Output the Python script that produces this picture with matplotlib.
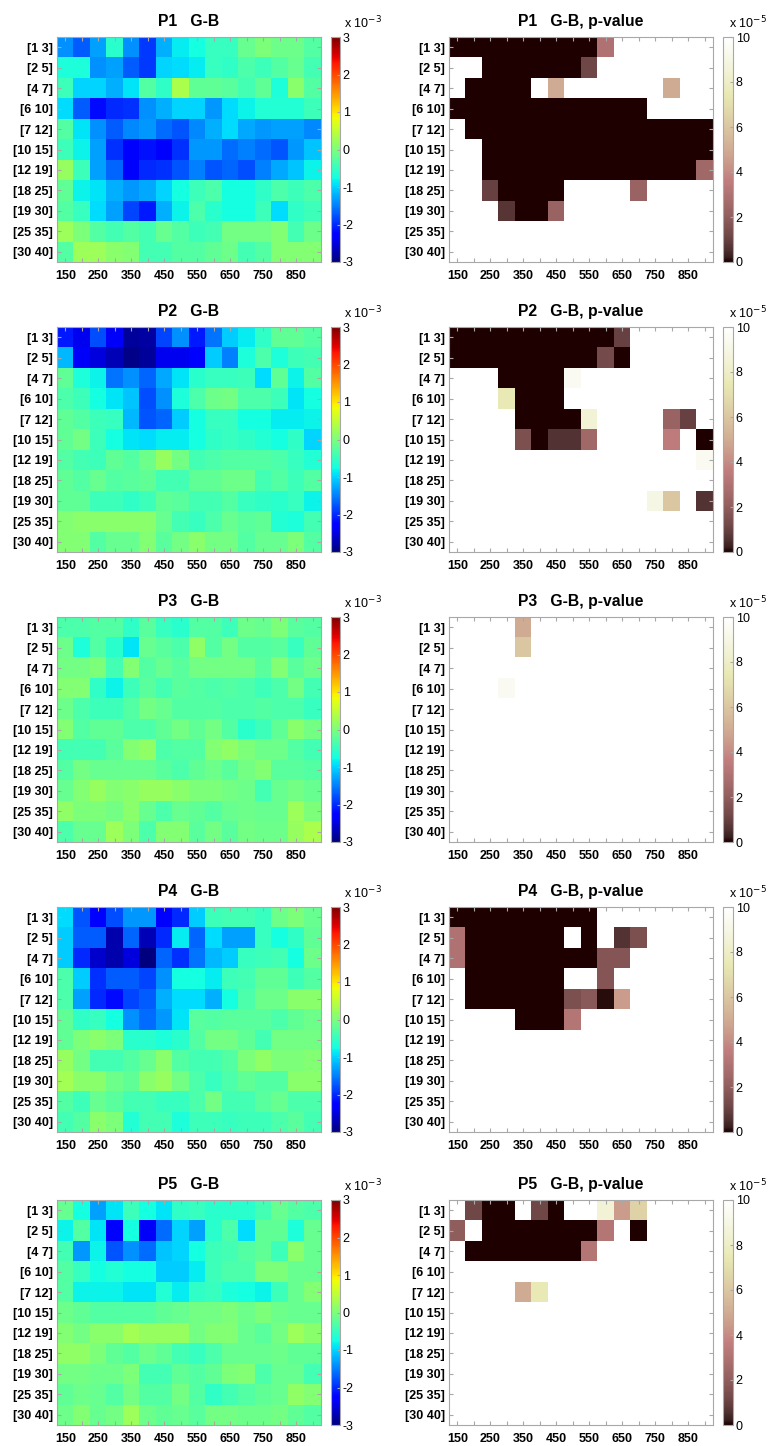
import matplotlib
matplotlib.use('Agg')
import matplotlib.pyplot as plt
import numpy as np

plt.rcParams['font.family'] = ['Liberation Sans', 'DejaVu Sans']

N = np.nan

x_vals = [150, 200, 250, 300, 350, 400, 450, 500, 550, 600, 650, 700, 750, 800, 850, 900]
x_labels = ['150', '', '250', '', '350', '', '450', '', '550', '', '650', '', '750', '', '850', '']
row_labels = ['[1 3]', '[2 5]', '[4 7]', '[6 10]', '[7 12]', '[10 15]',
              '[12 19]', '[18 25]', '[19 30]', '[25 35]', '[30 40]']
panel_names = ['P1', 'P2', 'P3', 'P4', 'P5']

# G-B difference, in units of 1e-3
gb_p1 = [
    [-1.4, -1.7, -1.3, -0.6, -1.4, -1.9, -1.2, -0.85, -0.75, -0.5, -0.5, -0.15, 0.0, -0.1, -0.1, -0.3],
    [-0.7, -0.7, -1.4, -1.3, -1.7, -1.9, -1.0, -0.95, -0.85, -0.5, -0.55, -0.35, -0.45, -0.3, -0.15, -0.4],
    [-0.45, -1.0, -1.0, -1.2, -0.9, -0.3, -0.55, 0.35, -0.2, -0.2, -0.25, -0.4, -0.2, -0.7, 0.1, -0.3],
    [-0.95, -1.7, -2.2, -2.0, -1.95, -1.4, -1.2, -1.0, -1.0, -1.35, -0.95, -0.8, -0.65, -0.65, -0.65, -0.45],
    [-0.3, -0.9, -1.4, -1.7, -1.45, -1.35, -1.6, -1.75, -1.45, -1.2, -0.95, -1.25, -1.35, -1.3, -1.3, -1.45],
    [-0.45, -0.8, -1.3, -1.95, -2.3, -2.15, -2.3, -1.95, -1.35, -1.35, -1.6, -1.5, -1.6, -1.75, -1.35, -1.1],
    [0.2, -0.45, -1.3, -1.65, -2.3, -2.0, -1.95, -1.75, -1.5, -1.75, -1.65, -1.8, -1.5, -1.25, -1.1, -0.8],
    [-0.2, -0.8, -0.9, -1.2, -1.35, -1.25, -1.0, -0.75, -0.45, -0.35, -0.75, -0.75, -0.55, -0.35, -0.45, -0.35],
    [-0.3, -0.5, -0.95, -1.3, -1.85, -2.1, -1.2, -0.8, -0.35, -0.6, -0.75, -0.75, -0.45, -0.95, -0.55, -0.45],
    [0.25, 0.0, -0.3, -0.4, -0.3, -0.4, -0.15, -0.3, -0.45, -0.4, -0.05, -0.05, -0.05, 0.05, -0.4, -0.1],
    [-0.3, 0.25, 0.25, 0.1, 0.05, -0.4, -0.4, -0.3, -0.3, -0.2, -0.1, -0.4, -0.3, 0.05, 0.05, 0.05],
]
gb_p2 = [
    [-2.1, -2.4, -1.8, -2.35, -2.85, -2.8, -1.85, -1.4, -2.1, -1.55, -1.05, -0.85, -0.55, -0.2, -0.2, -0.3],
    [-1.15, -2.35, -2.5, -2.7, -2.95, -2.85, -2.4, -2.4, -2.25, -1.05, -1.5, -0.7, -0.35, -0.7, -0.45, -0.4],
    [-0.2, -0.7, -0.8, -1.55, -1.4, -1.65, -1.25, -0.9, -0.6, -0.5, -0.5, -0.45, -0.95, -0.2, -0.8, -0.3],
    [-0.35, -0.45, -0.75, -0.9, -1.1, -1.8, -1.4, -0.7, -0.35, -0.1, -0.05, -0.35, -0.35, -0.45, -0.9, -0.75],
    [-0.2, -0.3, -0.45, -0.5, -1.15, -1.75, -1.65, -1.05, -0.75, -0.5, -0.5, -0.75, -0.75, -0.85, -0.85, -0.8],
    [-0.2, -0.05, -0.45, -0.75, -0.9, -0.95, -0.85, -0.85, -0.75, -0.55, -0.5, -0.55, -0.65, -0.75, -0.55, -1.0],
    [-0.3, -0.4, -0.45, -0.2, -0.3, -0.1, 0.2, -0.05, -0.4, -0.35, -0.3, -0.3, -0.3, -0.35, -0.5, -0.65],
    [-0.2, -0.3, -0.15, -0.3, -0.25, -0.2, -0.4, -0.4, -0.2, -0.2, -0.1, -0.1, -0.4, -0.3, -0.45, -0.3],
    [-0.2, -0.2, -0.45, -0.45, -0.55, -0.45, -0.2, -0.25, -0.4, -0.4, -0.3, -0.5, -0.55, -0.6, -0.5, -0.8],
    [0.05, 0.1, 0.1, 0.1, 0.1, 0.1, -0.15, -0.4, -0.5, -0.35, -0.15, -0.25, -0.2, -0.65, -0.7, -0.4],
    [0.05, 0.05, -0.3, -0.15, -0.15, 0.05, -0.25, -0.05, 0.1, -0.05, -0.05, -0.3, -0.15, -0.15, 0.0, -0.3],
]
gb_p3 = [
    [-0.35, -0.35, -0.3, -0.3, -0.55, -0.25, -0.5, -0.6, -0.3, -0.3, -0.45, -0.1, -0.15, 0.0, -0.25, -0.3],
    [-0.1, -0.7, -0.3, -0.6, -0.9, -0.15, -0.25, -0.35, 0.15, -0.3, -0.05, -0.3, -0.3, -0.25, -0.5, -0.2],
    [-0.05, -0.05, 0.0, -0.4, 0.05, -0.3, -0.15, -0.25, -0.05, -0.05, -0.05, -0.05, -0.25, 0.05, -0.25, -0.1],
    [0.05, 0.05, -0.55, -0.8, -0.45, -0.25, -0.4, -0.25, -0.3, -0.35, -0.3, -0.35, -0.45, -0.35, -0.05, -0.4],
    [-0.1, -0.35, -0.45, -0.45, -0.3, -0.05, -0.15, -0.3, -0.3, -0.3, -0.35, -0.35, -0.3, -0.35, -0.35, -0.5],
    [0.05, -0.3, -0.2, -0.2, -0.35, -0.35, -0.2, -0.05, -0.2, -0.05, -0.3, -0.6, -0.45, -0.2, 0.1, -0.05],
    [-0.4, -0.4, -0.4, -0.25, 0.05, 0.15, -0.35, -0.3, -0.3, 0.05, 0.15, 0.0, -0.1, -0.1, -0.3, -0.4],
    [-0.3, -0.05, -0.15, -0.15, -0.15, -0.15, -0.25, -0.35, -0.2, -0.1, -0.25, -0.05, 0.05, -0.25, -0.25, -0.3],
    [-0.15, 0.05, 0.2, 0.05, 0.1, 0.2, 0.2, 0.1, 0.0, 0.0, -0.05, -0.1, -0.4, -0.15, -0.05, -0.15],
    [0.15, 0.0, 0.0, -0.05, 0.1, -0.15, -0.35, -0.15, -0.2, -0.3, -0.15, -0.1, -0.15, -0.15, 0.25, 0.0],
    [-0.35, -0.15, -0.15, 0.25, 0.0, -0.35, 0.05, 0.05, -0.25, -0.05, -0.25, -0.05, -0.1, -0.1, 0.2, 0.35],
]
gb_p4 = [
    [-0.95, -1.75, -2.3, -1.8, -1.35, -1.35, -2.3, -2.0, -1.05, -0.45, -0.4, -0.4, -0.5, -0.1, 0.0, -0.15],
    [-1.05, -1.7, -1.7, -2.75, -1.65, -2.7, -2.0, -0.85, -1.65, -0.95, -1.3, -1.3, -0.5, -0.75, -0.55, -0.2],
    [-1.05, -2.0, -2.6, -2.75, -2.5, -3.0, -1.65, -1.95, -1.55, -1.15, -1.05, -0.5, -0.45, -0.4, -0.75, -0.1],
    [-0.35, -1.05, -1.95, -1.7, -1.7, -1.85, -1.4, -0.75, -0.75, -0.85, -0.45, -0.4, -0.2, -0.2, -0.45, -0.3],
    [-0.35, -1.3, -2.0, -2.2, -1.85, -1.7, -1.2, -0.95, -0.95, -1.2, -0.75, -0.35, -0.1, -0.1, 0.1, 0.1],
    [-0.2, -0.55, -0.5, -0.75, -1.4, -1.6, -1.35, -0.9, -0.25, -0.3, -0.25, -0.25, -0.25, -0.35, -0.2, -0.1],
    [-0.2, 0.0, 0.1, 0.0, -0.6, -0.6, -0.7, -0.6, -0.3, -0.05, -0.05, -0.2, -0.4, -0.05, -0.05, -0.05],
    [0.2, -0.05, -0.4, -0.4, -0.3, -0.15, 0.1, -0.3, -0.4, -0.4, -0.3, 0.0, 0.15, 0.0, 0.0, 0.05],
    [0.3, 0.1, 0.1, -0.1, -0.2, 0.1, 0.2, -0.05, -0.35, -0.5, -0.35, -0.2, -0.3, -0.3, 0.1, 0.1],
    [-0.3, -0.45, -0.15, -0.25, -0.4, -0.4, -0.5, -0.5, -0.35, -0.05, -0.4, -0.4, -0.25, -0.15, -0.35, -0.35],
    [-0.4, -0.3, 0.1, 0.0, -0.65, -0.4, -0.4, -0.7, -0.45, -0.45, -0.5, -0.45, -0.45, -0.35, -0.25, -0.4],
]
gb_p5 = [
    [-0.15, -0.75, -1.3, -0.9, -0.45, -0.75, -0.9, -0.55, -0.5, -0.6, -0.6, -0.6, -0.4, -0.15, -0.3, -0.35],
    [-0.8, -0.3, -0.9, -2.3, -0.75, -2.35, -1.6, -1.0, -1.3, -0.6, -0.35, -0.95, -0.2, -0.2, -0.7, -0.15],
    [-0.4, -1.35, -0.8, -1.75, -1.4, -1.6, -1.1, -1.0, -0.75, -0.45, -0.4, -0.3, -0.2, -0.45, 0.1, -0.15],
    [-0.3, -0.5, -0.75, -0.65, -0.75, -0.75, -1.05, -1.05, -0.85, -0.45, -0.35, -0.35, 0.0, 0.0, -0.15, -0.15],
    [-0.3, -0.8, -0.8, -0.8, -0.9, -0.9, -0.65, -0.85, -0.55, -0.5, -0.7, -0.75, -0.8, -0.45, -0.15, 0.05],
    [-0.1, -0.2, -0.3, -0.3, -0.3, -0.3, -0.2, -0.15, -0.05, -0.05, 0.0, -0.1, 0.0, -0.1, -0.15, -0.15],
    [0.05, -0.05, 0.1, 0.1, 0.3, 0.2, 0.2, 0.2, -0.05, 0.05, 0.05, -0.15, -0.25, -0.05, 0.25, 0.1],
    [0.15, 0.15, 0.0, -0.2, -0.3, -0.1, -0.2, -0.4, -0.5, -0.35, -0.15, -0.15, -0.15, -0.1, -0.2, -0.2],
    [-0.05, -0.05, -0.1, -0.1, 0.0, -0.4, -0.4, -0.2, -0.3, -0.2, 0.0, 0.05, -0.35, -0.15, -0.15, -0.4],
    [-0.2, -0.1, -0.15, -0.3, -0.05, -0.3, -0.3, -0.05, -0.3, -0.55, -0.4, -0.3, -0.2, -0.15, 0.15, 0.05],
    [-0.1, 0.05, -0.15, -0.05, 0.25, -0.1, -0.2, -0.15, -0.25, -0.05, -0.05, -0.1, -0.1, -0.05, -0.2, -0.3],
]

# p-values, in units of 1e-5; N = above 1e-4 (drawn white)
pv_p1 = [
    [0, 0, 0, 0, 0, 0, 0, 0, 0, 3.0, N, N, N, N, N, N],
    [N, N, 0, 0, 0, 0, 0, 0, 1.2, N, N, N, N, N, N, N],
    [N, 0, 0, 0, 0, N, 5.0, N, N, N, N, N, N, 5.0, N, N],
    [0, 0, 0, 0, 0, 0, 0, 0, 0, 0, 0, 0, N, N, N, N],
    [N, 0, 0, 0, 0, 0, 0, 0, 0, 0, 0, 0, 0, 0, 0, 0],
    [N, N, 0, 0, 0, 0, 0, 0, 0, 0, 0, 0, 0, 0, 0, 0],
    [N, N, 0, 0, 0, 0, 0, 0, 0, 0, 0, 0, 0, 0, 0, 2.5],
    [N, N, 1.0, 0, 0, 0, 0, N, N, N, N, 2.3, N, N, N, N],
    [N, N, N, 0.7, 0, 0, 2.3, N, N, N, N, N, N, N, N, N],
    [N, N, N, N, N, N, N, N, N, N, N, N, N, N, N, N],
    [N, N, N, N, N, N, N, N, N, N, N, N, N, N, N, N],
]
pv_p2 = [
    [0, 0, 0, 0, 0, 0, 0, 0, 0, 0, 1.0, N, N, N, N, N],
    [0, 0, 0, 0, 0, 0, 0, 0, 0, 1.3, 0, N, N, N, N, N],
    [N, N, N, 0, 0, 0, 0, 9.5, N, N, N, N, N, N, N, N],
    [N, N, N, 7.5, 0, 0, 0, N, N, N, N, N, N, N, N, N],
    [N, N, N, N, 0, 0, 0, 0, 8.5, N, N, N, N, 2.3, 1.0, N],
    [N, N, N, N, 1.5, 0, 0.6, 0.6, 2.5, N, N, N, N, 3.5, N, 0],
    [N, N, N, N, N, N, N, N, N, N, N, N, N, N, N, 9.5],
    [N, N, N, N, N, N, N, N, N, N, N, N, N, N, N, N],
    [N, N, N, N, N, N, N, N, N, N, N, N, 9.0, 6.0, N, 0.6],
    [N, N, N, N, N, N, N, N, N, N, N, N, N, N, N, N],
    [N, N, N, N, N, N, N, N, N, N, N, N, N, N, N, N],
]
pv_p3 = [
    [N, N, N, N, 5.0, N, N, N, N, N, N, N, N, N, N, N],
    [N, N, N, N, 6.0, N, N, N, N, N, N, N, N, N, N, N],
    [N, N, N, N, N, N, N, N, N, N, N, N, N, N, N, N],
    [N, N, N, 9.5, N, N, N, N, N, N, N, N, N, N, N, N],
    [N, N, N, N, N, N, N, N, N, N, N, N, N, N, N, N],
    [N, N, N, N, N, N, N, N, N, N, N, N, N, N, N, N],
    [N, N, N, N, N, N, N, N, N, N, N, N, N, N, N, N],
    [N, N, N, N, N, N, N, N, N, N, N, N, N, N, N, N],
    [N, N, N, N, N, N, N, N, N, N, N, N, N, N, N, N],
    [N, N, N, N, N, N, N, N, N, N, N, N, N, N, N, N],
    [N, N, N, N, N, N, N, N, N, N, N, N, N, N, N, N],
]
pv_p4 = [
    [0, 0, 0, 0, 0, 0, 0, 0, 0, N, N, N, N, N, N, N],
    [3.0, 0, 0, 0, 0, 0, 0, N, 0, N, 0.6, 1.5, N, N, N, N],
    [3.0, 0, 0, 0, 0, 0, 0, 0, 0, 1.7, 1.7, N, N, N, N, N],
    [N, 0, 0, 0, 0, 0, 0, N, N, 1.7, N, N, N, N, N, N],
    [N, 0, 0, 0, 0, 0, 0, 1.5, 1.8, 0.1, 4.5, N, N, N, N, N],
    [N, N, N, N, 0, 0, 0, 3.2, N, N, N, N, N, N, N, N],
    [N, N, N, N, N, N, N, N, N, N, N, N, N, N, N, N],
    [N, N, N, N, N, N, N, N, N, N, N, N, N, N, N, N],
    [N, N, N, N, N, N, N, N, N, N, N, N, N, N, N, N],
    [N, N, N, N, N, N, N, N, N, N, N, N, N, N, N, N],
    [N, N, N, N, N, N, N, N, N, N, N, N, N, N, N, N],
]
pv_p5 = [
    [N, 1.2, 0, 0, N, 1.2, 0, N, N, 8.5, 4.5, 6.5, N, N, N, N],
    [2.0, N, 0, 0, 0, 0, 0, 0, 0, 3.2, N, 0, N, N, N, N],
    [N, 0, 0, 0, 0, 0, 0, 0, 3.2, N, N, N, N, N, N, N],
    [N, N, N, N, N, N, N, N, N, N, N, N, N, N, N, N],
    [N, N, N, N, 5.0, 7.5, N, N, N, N, N, N, N, N, N, N],
    [N, N, N, N, N, N, N, N, N, N, N, N, N, N, N, N],
    [N, N, N, N, N, N, N, N, N, N, N, N, N, N, N, N],
    [N, N, N, N, N, N, N, N, N, N, N, N, N, N, N, N],
    [N, N, N, N, N, N, N, N, N, N, N, N, N, N, N, N],
    [N, N, N, N, N, N, N, N, N, N, N, N, N, N, N, N],
    [N, N, N, N, N, N, N, N, N, N, N, N, N, N, N, N],
]

gb_all = [gb_p1, gb_p2, gb_p3, gb_p4, gb_p5]
pv_all = [pv_p1, pv_p2, pv_p3, pv_p4, pv_p5]

W, H = 770, 1446
fig = plt.figure(figsize=(W / 100, H / 100), dpi=100)


def px_axes(x0, y0, w, h):
    return fig.add_axes([x0 / W, 1 - (y0 + h) / H, w / W, h / H])


pink = plt.get_cmap('pink').copy()
pink.set_bad('white')
edge = '#a8a8a8'
half = (x_vals[1] - x_vals[0]) / 2
extent = [x_vals[0] - half, x_vals[-1] + half, len(row_labels) - 0.5, -0.5]


def style_axes(ax):
    ax.set_xticks(x_vals)
    ax.set_xticklabels(x_labels, fontsize=9, fontweight='bold')
    ax.set_yticks(range(len(row_labels)))
    ax.set_yticklabels(row_labels, fontsize=9, fontweight='bold')
    ax.tick_params(direction='in', length=3, color=edge, top=True, right=True,
                   pad=3)
    ax.tick_params(axis='x', pad=6)
    for s in ax.spines.values():
        s.set_color(edge)
        s.set_linewidth(0.8)


def style_cbar(cax, ticks, expo, tx):
    cax.set_yticks(ticks)
    cax.set_yticklabels([str(t) for t in ticks], fontsize=9)
    cax.tick_params(direction='in', length=2, color=edge, pad=2)
    for s in cax.spines.values():
        s.set_color(edge)
        s.set_linewidth(0.8)
    # exponent label sits just above the top tick, as in MATLAB
    cax.text(tx, 1.025, r'x 10$^{%d}$' % expo, transform=cax.transAxes,
             ha='left', va='bottom', fontsize=9)


row_tops = [37, 327, 617, 907, 1200]
for i, name in enumerate(panel_names):
    top = row_tops[i]

    ax = px_axes(57, top, 264, 225)
    im = ax.imshow(np.array(gb_all[i]), cmap='jet', vmin=-3, vmax=3,
                   extent=extent, aspect='auto', interpolation='nearest')
    style_axes(ax)
    ax.set_title(name + '   G-B', fontsize=11.3, fontweight='bold', pad=8)
    cax = px_axes(331, top, 9, 225)
    fig.colorbar(im, cax=cax)
    style_cbar(cax, [-3, -2, -1, 0, 1, 2, 3], -3, 1.4)

    ax2 = px_axes(449, top, 264, 225)
    im2 = ax2.imshow(np.array(pv_all[i], dtype=float), cmap=pink, vmin=0, vmax=10,
                     extent=extent, aspect='auto', interpolation='nearest')
    style_axes(ax2)
    ax2.set_title(name + '   G-B, p-value', fontsize=11.3, fontweight='bold', pad=8)
    cax2 = px_axes(723, top, 10, 225)
    fig.colorbar(im2, cax=cax2)
    style_cbar(cax2, [0, 2, 4, 6, 8, 10], -5, 0.6)

fig.savefig('out.png', dpi=100)
